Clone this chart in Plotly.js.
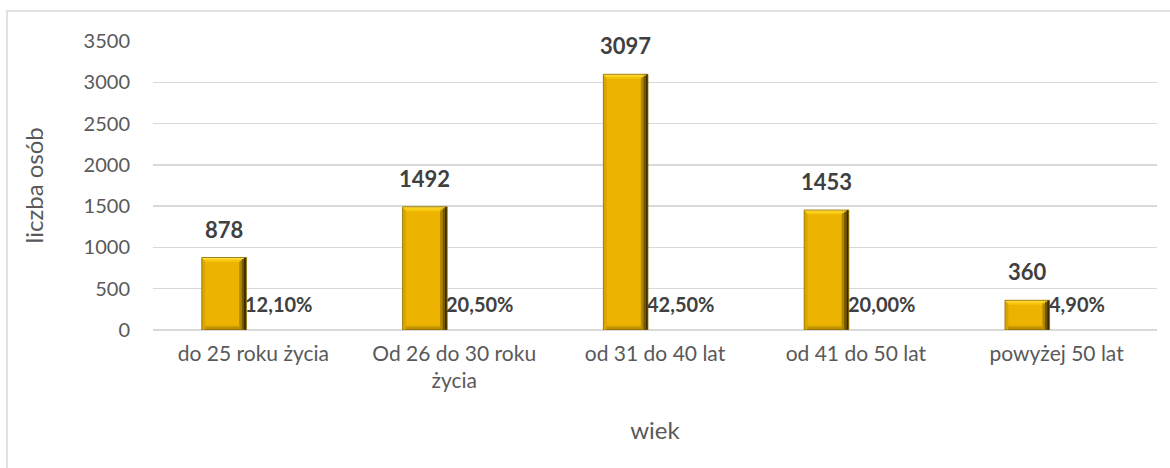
<!DOCTYPE html>
<html>
<head>
<meta charset="utf-8">
<script src="https://cdn.plot.ly/plotly-3.0.1.min.js"></script>
<style>html,body{margin:0;padding:0;background:#fff;}#chart{width:1170px;height:468px;}</style>
</head>
<body>
<div id="chart"></div>
<script>
// ---- data ----
const categories = ["do 25 roku życia", "Od 26 do 30 roku<br>życia", "od 31 do 40 lat", "od 41 do 50 lat", "powyżej 50 lat"];
const counts = [878, 1492, 3097, 1453, 360];
const shares = ["12,10%", "20,50%", "42,50%", "20,00%", "4,90%"];
const yTicks = [0, 500, 1000, 1500, 2000, 2500, 3000, 3500];

// ---- styling ----
const FONT = "Lato, 'Open Sans', sans-serif";
const OFF = -0.257, BW = 0.222;
const PX = 500 / 82.6; // data units per pixel (bevel depth only)
const xs = categories.map((c, i) => i);

function layer(offFrac, wFrac, yArr, baseArr, color) {
  return {
    type: "bar", x: xs, y: yArr, base: baseArr,
    offset: OFF + BW * offFrac, width: BW * wFrac,
    marker: {color: color, line: {width: 0}},
    hoverinfo: "skip", showlegend: false
  };
}
const zeros = counts.map(() => 0);
const d3 = counts.map(() => 3 * PX);
const traces = [
  {type: "bar", x: xs, y: counts, offset: OFF, width: BW, name: "liczba osób",
   marker: {color: "#ECB400", line: {width: 0}}, showlegend: false},
  // left bevel
  layer(0.0, 0.075, counts, zeros, "#DCA600"),
  // right bevel (gradient to dark)
  layer(0.84, 0.055, counts, zeros, "#B08500"),
  layer(0.895, 0.05, counts, zeros, "#735700"),
  layer(0.945, 0.055, counts, zeros, "#3A2C00"),
  // bottom bevel
  layer(0.07, 0.78, d3, counts.map(() => 6 * PX), "#D6A300"),
  layer(0.07, 0.78, d3, counts.map(() => 3 * PX), "#BF9000"),
  layer(0.07, 0.78, d3, zeros, "#A57C00"),
  // top bevel
  layer(0.07, 0.78, d3, counts.map(v => v - 9 * PX), "#F5C508"),
  layer(0.04, 0.86, d3, counts.map(v => v - 6 * PX), "#FCD21C"),
  layer(0.0, 0.945, d3, counts.map(v => v - 3 * PX), "#FFDE45"),
  // outline
  {type: "bar", x: xs, y: counts, offset: OFF, width: BW,
   marker: {color: "rgba(0,0,0,0)", line: {color: "#8C6D00", width: 0.8}},
   hoverinfo: "skip", showlegend: false}
];

const annotations = [];
counts.forEach((v, i) => {
  annotations.push({x: i + OFF + BW / 2, y: v, xref: "x", yref: "y", text: "<b>" + v + "</b>",
    showarrow: false, yanchor: "bottom", yshift: 13,
    font: {family: FONT, size: 22, color: "#404040"}});
  annotations.push({x: i + OFF + BW, y: 0, xref: "x", yref: "y", text: "<b>" + shares[i] + "</b>",
    showarrow: false, xanchor: "left", yanchor: "middle", yshift: 26, xshift: -3,
    font: {family: FONT, size: 20, color: "#404040"}});
});
annotations.push({xref: "paper", yref: "paper", x: (33 - 153) / 1004, y: 0.5,
  text: "liczba osób", textangle: -90, showarrow: false, xanchor: "center", yanchor: "middle",
  font: {family: FONT, size: 24, color: "#595959"}});

const layout = {
  width: 1170, height: 468,
  margin: {l: 153, r: 13, t: 41, b: 138},
  paper_bgcolor: "#ffffff", plot_bgcolor: "#ffffff",
  barmode: "overlay",
  font: {family: FONT, color: "#595959", size: 20},
  xaxis: {
    range: [-0.5, 4.5], tickmode: "array", tickvals: xs, ticktext: categories,
    showgrid: false, zeroline: false, showline: false, ticks: "",
    ticklabelstandoff: 9,
    tickfont: {family: FONT, size: 21, color: "#595959"},
    title: {text: "wiek", font: {family: FONT, size: 24, color: "#595959"}, standoff: 30}
  },
  yaxis: {
    range: [0, 3500], tickmode: "array", tickvals: yTicks,
    showgrid: true, gridcolor: "#d9d9d9", gridwidth: 1.5,
    zeroline: true, zerolinecolor: "#d9d9d9", zerolinewidth: 1.5,
    showline: false, ticks: "", ticklabelstandoff: 22,
    tickfont: {family: FONT, size: 20, color: "#595959"}
  },
  annotations: annotations,
  shapes: [{type: "rect", xref: "paper", yref: "paper", layer: "below",
    x0: (7 - 153) / 1004, x1: 1.2, y0: -1, y1: 1 + 30 / 289,
    line: {color: "#d9d9d9", width: 1.5}, fillcolor: "rgba(0,0,0,0)"}]
};

Plotly.newPlot("chart", traces, layout, {displayModeBar: false, staticPlot: true});
</script>
</body>
</html>
